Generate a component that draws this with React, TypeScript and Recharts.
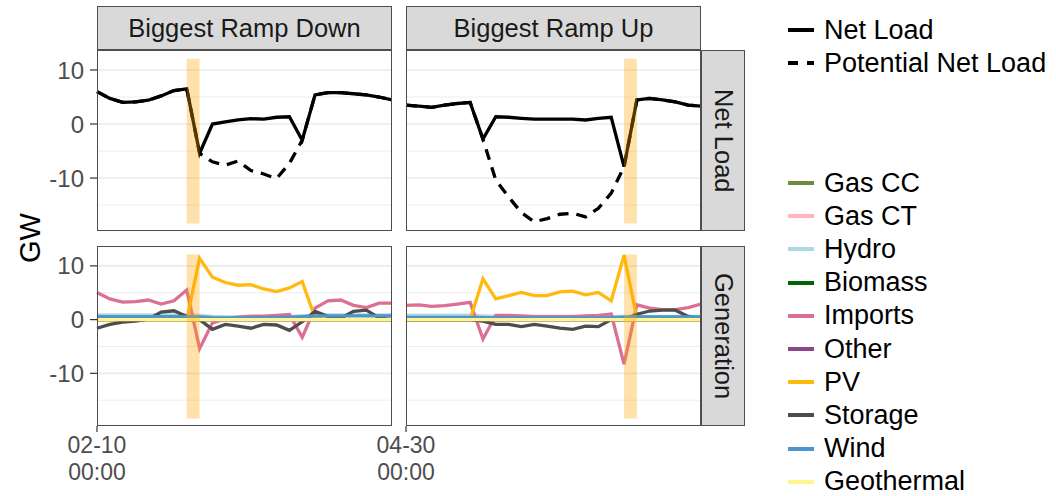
import { LineChart, Line, XAxis, YAxis, CartesianGrid, ReferenceArea } from 'recharts';

const FONT = '"Liberation Sans", Arial, Helvetica, sans-serif';

// hour index inside each 24h window
const hours = [0, 1, 2, 3, 4, 5, 6, 7, 8, 9, 10, 11, 12, 13, 14, 15, 16, 17, 18, 19, 20, 21, 22, 23];

const facetCols = ['Biggest Ramp Down', 'Biggest Ramp Up'];
const facetRows = ['Net Load', 'Generation'];
const startLabels = [['02-10', '00:00'], ['04-30', '00:00']];
const yTicks = [-10, 0, 10];
const majorGrid = [-10, 0, 10];
const minorGrid = [-15, -5, 5];
const Y_DOMAIN: [number, number] = [-19.8, 13.7];

// ramp hour highlighted (start, end)
const rampDown: [number, number] = [7, 8];
const rampUp: [number, number] = [17, 18];

// net load, GW
const downNetLoad = [6.0, 4.75, 4.0, 4.1, 4.4, 5.2, 6.2, 6.5, -5.4, 0.0, 0.4, 0.75, 1.0, 0.9, 1.25, 1.35, -3.0, 5.4, 5.8, 5.8, 5.6, 5.4, 5.0, 4.45];
const downPotential = [6.0, 4.75, 4.0, 4.1, 4.4, 5.2, 6.2, 6.5, -5.4, -7.0, -7.6, -6.85, -8.6, -9.25, -10.1, -7.3, -3.0, 5.4, 5.8, 5.8, 5.6, 5.4, 5.0, 4.45];
const upNetLoad = [3.5, 3.3, 3.1, 3.5, 3.8, 4.0, -2.8, 1.35, 1.25, 1.05, 0.9, 0.9, 0.9, 0.9, 0.75, 1.05, 1.25, -7.9, 4.45, 4.75, 4.45, 4.1, 3.5, 3.3];
const upPotential = [3.5, 3.3, 3.1, 3.5, 3.8, 4.0, -2.8, -10.4, -13.5, -16.4, -18.1, -17.5, -16.7, -16.5, -17.2, -15.6, -12.8, -7.9, 4.45, 4.75, 4.45, 4.1, 3.5, 3.3];

// generation, GW
const genNames = ['Gas CC', 'Gas CT', 'Hydro', 'Biomass', 'Imports', 'Other', 'PV', 'Storage', 'Wind', 'Geothermal'];
const genColors = ['#6E8B3D', '#FFB6C1', '#ADD8E6', '#006400', '#DB7093', '#8B4789', '#FFB90F', '#4D4D4D', '#4F94CD', '#FFF68F'];

const zeroDay = [0, 0, 0, 0, 0, 0, 0, 0, 0, 0, 0, 0, 0, 0, 0, 0, 0, 0, 0, 0, 0, 0, 0, 0];

const downHydro = [0.9, 0.9, 0.9, 0.9, 0.9, 0.9, 0.9, 0.9, 0.8, 0.6, 0.5, 0.5, 0.5, 0.5, 0.5, 0.6, 0.7, 0.8, 0.9, 0.9, 0.9, 0.9, 0.9, 0.9];
const downImports = [5.05, 3.85, 3.25, 3.35, 3.65, 2.9, 3.5, 5.5, -5.4, -0.6, 0.15, 0.45, 0.65, 0.65, 0.8, 0.95, -3.3, 2.15, 3.5, 3.65, 2.65, 2.25, 3.05, 3.05];
const downPV = [0, 0, 0, 0, 0, 0, 0, 0, 11.4, 7.9, 6.9, 6.4, 6.5, 5.7, 5.2, 5.9, 7.1, 0.3, 0, 0, 0, 0, 0, 0];
const downStorage = [-1.6, -0.9, -0.45, -0.3, 0.1, 1.4, 1.65, 0.6, 0, -1.8, -0.9, -1.2, -1.6, -0.9, -1.0, -2.0, -0.4, 1.55, 0.6, 0.25, 1.55, 1.75, 0.3, 0];
const downWind = [0.55, 0.55, 0.55, 0.55, 0.55, 0.55, 0.55, 0.55, 0.5, 0.35, 0.3, 0.3, 0.35, 0.35, 0.4, 0.45, 0.55, 0.7, 0.7, 0.7, 0.7, 0.7, 0.7, 0.7];

const upHydro = [0.85, 0.85, 0.85, 0.85, 0.85, 0.85, 0.7, 0.6, 0.6, 0.6, 0.6, 0.6, 0.6, 0.6, 0.6, 0.6, 0.6, 0.6, 0.6, 0.6, 0.6, 0.6, 0.6, 0.6];
const upImports = [2.65, 2.75, 2.45, 2.6, 2.9, 3.2, -3.6, 0.8, 0.8, 0.7, 0.55, 0.55, 0.55, 0.55, 0.7, 0.8, 1.05, -8.3, 2.75, 2.15, 1.85, 1.85, 2.25, 2.9];
const upPV = [0, 0, 0, 0, 0, 0, 7.6, 3.85, 4.45, 5.05, 4.45, 4.45, 5.15, 5.3, 4.6, 5.05, 3.5, 12.0, 0.3, 0, 0, 0, 0, 0];
const upStorage = [0, 0, 0, 0, 0, 0, -0.3, -0.9, -0.9, -1.3, -0.9, -1.2, -1.6, -1.8, -1.2, -1.3, 0, 0, 1.0, 1.6, 1.75, 1.75, 0.6, 0.2];
const upWind = [0.4, 0.4, 0.4, 0.4, 0.4, 0.4, 0.35, 0.3, 0.3, 0.3, 0.3, 0.3, 0.3, 0.3, 0.3, 0.3, 0.35, 0.45, 0.5, 0.5, 0.5, 0.5, 0.5, 0.5];

const downGen = [zeroDay, zeroDay, downHydro, zeroDay, downImports, zeroDay, downPV, downStorage, downWind, zeroDay];
const upGen = [zeroDay, zeroDay, upHydro, zeroDay, upImports, zeroDay, upPV, upStorage, upWind, zeroDay];

const netLines = [
  { key: 'Potential Net Load', color: '#000', dash: '11 8' },
  { key: 'Net Load', color: '#000' },
];
const genLines = genNames.map((n, k) => ({ key: n, color: genColors[k] }));

function netRows(net: number[], pot: number[]) {
  return hours.map((h, i) => ({ h, 'Net Load': net[i], 'Potential Net Load': pot[i] }));
}

function genRows(cols: number[][]) {
  return hours.map((h, i) => {
    const row: Record<string, number> = { h };
    genNames.forEach((n, k) => {
      row[n] = cols[k][i];
    });
    return row;
  });
}

// panel geometry (page pixels)
const COL_X = [97, 406];
const PANEL_W = 295;
const ROW_Y = [50, 246];
const PANEL_H = [181, 180];
const STRIP = 44;

interface PanelProps {
  data: any[];
  lines: { key: string; color: string; dash?: string }[];
  col: number;
  row: number;
  band: [number, number];
}

function Panel({ data, lines, col, row, band }: PanelProps) {
  const left = col === 0;
  const bottom = row === 1;
  const extraLeft = left ? COL_X[0] : 40;
  const xAxisH = bottom ? 70 : 0;
  const label = startLabels[col];

  const DateTick = (props: any) => {
    const { x, y } = props;
    return (
      <text x={x} y={y} textAnchor="middle" fill="#4D4D4D" fontSize={23} fontFamily={FONT}>
        <tspan x={x} y={y + 19}>{label[0]}</tspan>
        <tspan x={x} y={y + 46}>{label[1]}</tspan>
      </text>
    );
  };

  return (
    <div style={{ position: 'absolute', left: COL_X[col] - extraLeft, top: ROW_Y[row] }}>
      <LineChart
        width={extraLeft + PANEL_W}
        height={PANEL_H[row] + xAxisH}
        data={data}
        margin={{ top: 0, right: 0, bottom: 0, left: left ? 0 : extraLeft }}
      >
        <CartesianGrid vertical={false} horizontalValues={minorGrid} stroke="#EBEBEB" strokeWidth={0.9} />
        <CartesianGrid vertical={false} horizontalValues={majorGrid} stroke="#EBEBEB" strokeWidth={1.6} />
        <XAxis
          dataKey="h"
          type="number"
          domain={[0, 23]}
          ticks={[0]}
          hide={!bottom}
          height={xAxisH}
          axisLine={false}
          tickLine={{ stroke: '#333', strokeWidth: 1.2 }}
          tickSize={6}
          tickMargin={2}
          tick={DateTick}
        />
        <YAxis
          type="number"
          domain={Y_DOMAIN}
          allowDataOverflow
          ticks={yTicks}
          hide={!left}
          width={left ? COL_X[0] : 0}
          axisLine={false}
          tickLine={{ stroke: '#333', strokeWidth: 1.2 }}
          tickSize={7}
          tickMargin={6}
          tick={{ fill: '#4D4D4D', fontSize: 24, fontFamily: FONT }}
        />
        {lines.map((l) => (
          <Line
            key={l.key}
            type="linear"
            dataKey={l.key}
            stroke={l.color}
            strokeWidth={3.3}
            strokeDasharray={l.dash}
            dot={false}
            activeDot={false}
            isAnimationActive={false}
          />
        ))}
        <ReferenceArea
          x1={band[0]}
          x2={band[1]}
          y1={-18.4}
          y2={12.1}
          fill="#FFA500"
          fillOpacity={0.33}
          stroke="none"
          zIndex={1000}
        />
      </LineChart>
      <div
        style={{
          position: 'absolute',
          left: extraLeft,
          top: 0,
          width: PANEL_W,
          height: PANEL_H[row],
          border: '1.4px solid #4D4D4D',
          boxSizing: 'border-box',
          pointerEvents: 'none',
        }}
      />
    </div>
  );
}

const stripBase: React.CSSProperties = {
  position: 'absolute',
  background: '#D9D9D9',
  border: '1.4px solid #4D4D4D',
  boxSizing: 'border-box',
  display: 'flex',
  alignItems: 'center',
  justifyContent: 'center',
  color: '#1A1A1A',
  fontSize: 25.5,
  fontFamily: FONT,
};

const legendNet = [
  { name: 'Net Load', dash: undefined as string | undefined },
  { name: 'Potential Net Load', dash: '10 9' },
];

export default function App() {
  const panels = [
    { data: netRows(downNetLoad, downPotential), lines: netLines, col: 0, row: 0, band: rampDown },
    { data: netRows(upNetLoad, upPotential), lines: netLines, col: 1, row: 0, band: rampUp },
    { data: genRows(downGen), lines: genLines, col: 0, row: 1, band: rampDown },
    { data: genRows(upGen), lines: genLines, col: 1, row: 1, band: rampUp },
  ];

  return (
    <div
      style={{
        position: 'absolute',
        left: 0,
        top: 0,
        width: 1056,
        height: 496,
        background: '#fff',
        fontFamily: FONT,
        overflow: 'hidden',
      }}
    >
      {facetCols.map((c, i) => (
        <div key={c} style={{ ...stripBase, left: COL_X[i], top: 6, width: PANEL_W, height: STRIP }}>
          {c}
        </div>
      ))}
      {facetRows.map((r, i) => (
        <div
          key={r}
          style={{ ...stripBase, left: COL_X[1] + PANEL_W, top: ROW_Y[i], width: STRIP, height: PANEL_H[i] }}
        >
          <span style={{ writingMode: 'vertical-rl', whiteSpace: 'nowrap' }}>{r}</span>
        </div>
      ))}

      {panels.map((p, i) => (
        <Panel key={i} {...p} />
      ))}

      <div
        style={{
          position: 'absolute',
          left: 30,
          top: 238,
          transform: 'translate(-50%, -50%) rotate(-90deg)',
          fontSize: 29,
          color: '#000',
          whiteSpace: 'nowrap',
        }}
      >
        GW
      </div>

      {legendNet.map((l, i) => (
        <div key={l.name} style={{ position: 'absolute', left: 788, top: 30 + i * 33 - 17, height: 34, display: 'flex', alignItems: 'center' }}>
          <svg width={26} height={8} style={{ marginRight: 10 }}>
            <line x1={0} y1={4} x2={26} y2={4} stroke="#000" strokeWidth={4} strokeDasharray={l.dash} />
          </svg>
          <span style={{ fontSize: 27, color: '#000', whiteSpace: 'nowrap' }}>{l.name}</span>
        </div>
      ))}
      {genNames.map((n, i) => (
        <div key={n} style={{ position: 'absolute', left: 788, top: 183 + i * 33.2 - 17, height: 34, display: 'flex', alignItems: 'center' }}>
          <svg width={26} height={8} style={{ marginRight: 10 }}>
            <line x1={0} y1={4} x2={26} y2={4} stroke={genColors[i]} strokeWidth={4} />
          </svg>
          <span style={{ fontSize: 27, color: '#000', whiteSpace: 'nowrap' }}>{n}</span>
        </div>
      ))}
    </div>
  );
}
